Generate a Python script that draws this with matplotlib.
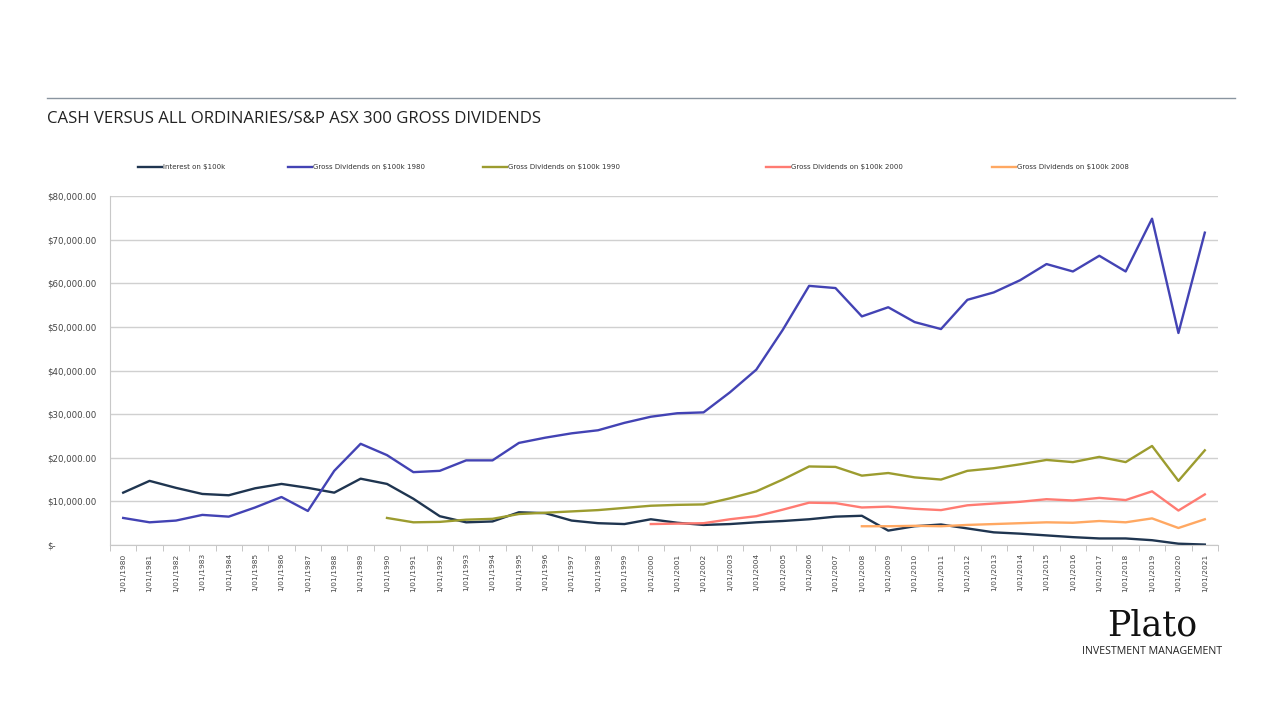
import numpy as np
from matplotlib import pyplot as plt
import matplotlib.ticker as mtick

# Years on the x axis (one label per 1 January)
years = list(range(1980, 2022))
year_labels = [f'1/01/{y}' for y in years]

# Values, in dollars
interest = [12000, 14700, 13100, 11700, 11400, 13000, 14000, 13100, 12000, 15200,
            14000, 10600, 6600, 5200, 5400, 7500, 7300, 5600, 5000, 4800,
            5900, 5100, 4600, 4800, 5200, 5500, 5900, 6500, 6700, 3300,
            4300, 4700, 3800, 2900, 2600, 2200, 1800, 1500, 1500, 1100,
            300, 100]
div_1980 = [6200, 5200, 5600, 6900, 6500, 8600, 11000, 7800, 17000, 23200,
            20600, 16700, 17000, 19400, 19400, 23400, 24600, 25600, 26300, 28000,
            29400, 30200, 30400, 35000, 40200, 49300, 59400, 58900, 52400, 54500,
            51100, 49500, 56200, 57900, 60700, 64400, 62700, 66300, 62700, 74800,
            48600, 71600]
div_1990 = [6200, 5200, 5300, 5800, 6000, 7100, 7400, 7700, 8000, 8500,
            9000, 9200, 9300, 10700, 12300, 15000, 18000, 17900, 15900, 16500,
            15500, 15000, 17000, 17600, 18500, 19500, 19000, 20200, 19000, 22700,
            14700, 21700]
div_2000 = [4800, 4900, 5000, 5900, 6600, 8100, 9700, 9600, 8600, 8800,
            8300, 8000, 9100, 9500, 9900, 10500, 10200, 10800, 10300, 12300,
            7900, 11600]
div_2008 = [4300, 4300, 4400, 4300, 4600, 4800, 5000, 5200, 5100, 5500,
            5200, 6100, 3900, 5900]

series = [
    ('Interest on $100k', 1980, interest, '#1f3550'),
    ('Gross Dividends on $100k 1980', 1980, div_1980, '#4343b4'),
    ('Gross Dividends on $100k 1990', 1990, div_1990, '#9c9c2f'),
    ('Gross Dividends on $100k 2000', 2000, div_2000, '#ff7b72'),
    ('Gross Dividends on $100k 2008', 2008, div_2008, '#ffa862'),
]

# left edge (pixels) of each legend entry along the top of the chart
legend_x = [138, 288, 483, 766, 992]


def dollar_formatter(x, pos):
    """Accounting style labels, '$-' for zero."""
    if x == 0:
        return '$-'
    return f'${x:,.2f}'


fig = plt.figure(figsize=(12.8, 7.2), dpi=100)
fig.patch.set_facecolor('white')

# Header rule and title
fig.add_artist(plt.Line2D([47 / 1280, 1235 / 1280], [1 - 98 / 720, 1 - 98 / 720],
                          color='#8a95a0', lw=1.0))
fig.text(47 / 1280, 1 - 119 / 720, 'CASH VERSUS ALL ORDINARIES/S&P ASX 300 GROSS DIVIDENDS',
         fontsize=12.1, color='#222222', va='center', ha='left', family='Open Sans')

ax = fig.add_axes([110 / 1280, 1 - 545 / 720, 1108 / 1280, 349 / 720])

lines = []
for label, start, values, color in series:
    idx = np.arange(start - 1980, start - 1980 + len(values))
    line, = ax.plot(idx, values, color=color, lw=1.7, label=label, solid_joinstyle='round')
    lines.append(line)

ax.set_xlim(-0.5, len(years) - 0.5)
ax.set_ylim(0, 80000)
ax.yaxis.set_major_locator(mtick.MultipleLocator(10000))
ax.yaxis.set_major_formatter(mtick.FuncFormatter(dollar_formatter))
ax.grid(axis='y', color='#d0d0d0', lw=1.0)
ax.set_axisbelow(True)

# category labels at points, tick marks between categories (Excel look)
ax.set_xticks(np.arange(len(years)))
ax.set_xticklabels(year_labels, rotation=90, fontsize=5.3, color='#444444')
ax.set_xticks(np.arange(len(years) + 1) - 0.5, minor=True)
ax.tick_params(axis='x', which='major', length=0, pad=6)
ax.tick_params(axis='x', which='minor', length=4, color='#bbbbbb', direction='out')
ax.tick_params(axis='y', length=0, labelsize=6.2, labelcolor='#444444', pad=45.4)
for lbl in ax.get_yticklabels():
    lbl.set_horizontalalignment('left')

for side in ['top', 'right']:
    ax.spines[side].set_visible(False)
ax.spines['left'].set_color('#c8c8c8')
ax.spines['bottom'].set_color('#c8c8c8')

# Legend entries spread across the top like the original
for line, x in zip(lines, legend_x):
    fig.legend([line], [line.get_label()], loc='center left',
               bbox_to_anchor=(x / 1280, 1 - 167 / 720), frameon=False,
               fontsize=5, handlelength=3.4, handletextpad=0.15,
               borderpad=0, borderaxespad=0, labelcolor='#333333')

# Logo
fig.text(1152 / 1280, 1 - 626 / 720, 'Plato', fontsize=25, family='DejaVu Serif',
         ha='center', va='center', color='#111111')
fig.text(1152 / 1280, 1 - 651 / 720, 'INVESTMENT MANAGEMENT', fontsize=7.7,
         ha='center', va='center', color='#222222', family='Open Sans')

fig.savefig('out.png', dpi=100, facecolor='white')
